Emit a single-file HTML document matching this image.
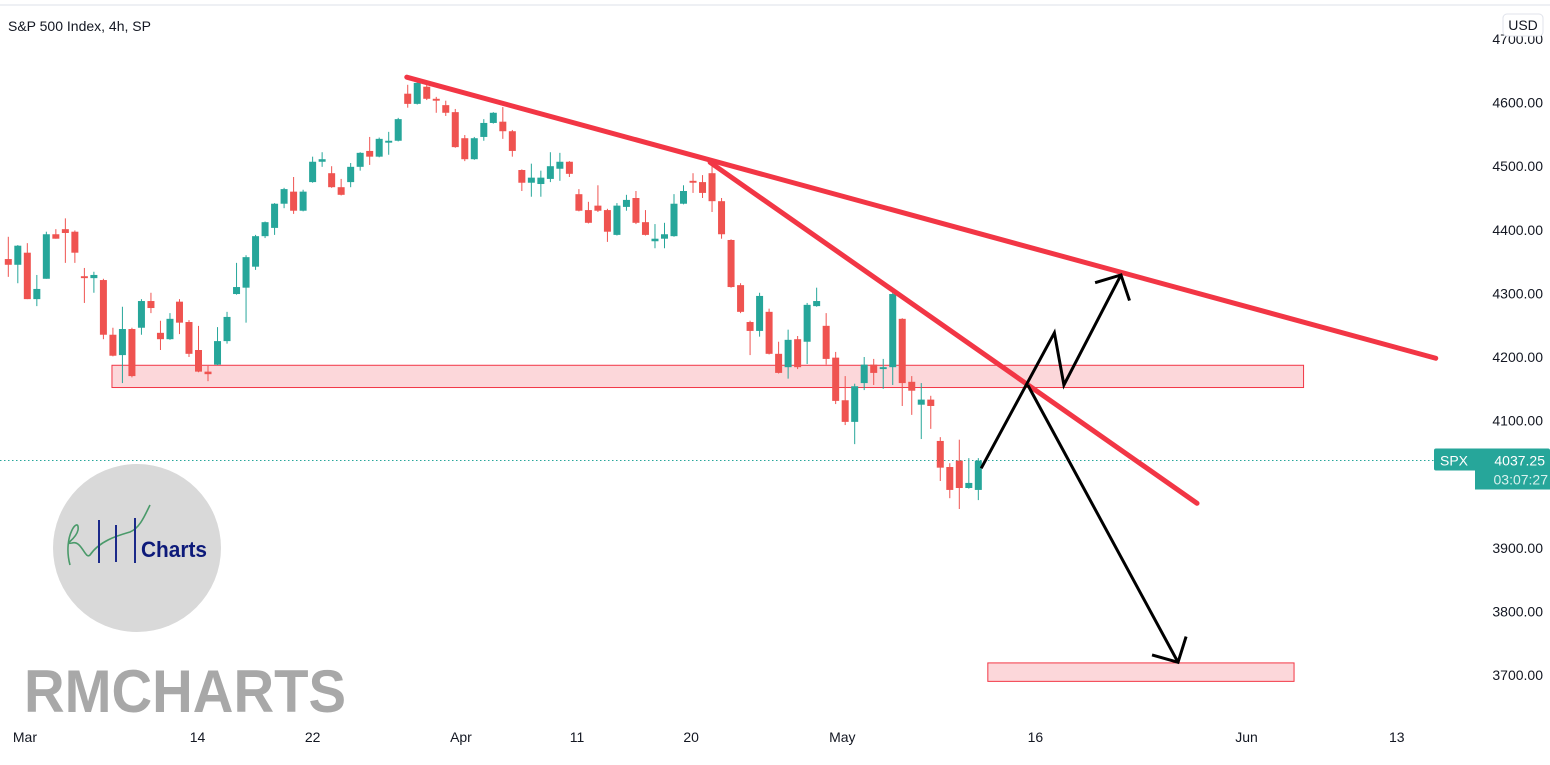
<!DOCTYPE html>
<html><head><meta charset="utf-8"><style>
html,body{margin:0;padding:0;background:#fff;}
body{width:1550px;height:765px;overflow:hidden;font-family:"Liberation Sans",sans-serif;}
svg{display:block;}
</style></head><body>
<svg id="chart" width="1550" height="765" xmlns="http://www.w3.org/2000/svg" font-family="Liberation Sans, sans-serif">
<line x1="0" y1="5" x2="1550" y2="5" stroke="#eef0f4" stroke-width="2"/>
<g id="logo">
<circle cx="137" cy="548" r="84" fill="#d9d9d9"/>
<path d="M70 565 C62 535,80 515,78 530 C76 540,62 545,72 543 C82 540,85 560,90 555 C100 540,120 535,130 532 C140 528,145 515,150 505" fill="none" stroke="#4a9a6a" stroke-width="1.6"/>
<line x1="99" y1="520" x2="99" y2="563" stroke="#1c2a8a" stroke-width="2"/>
<line x1="116" y1="525" x2="116" y2="562" stroke="#1c2a8a" stroke-width="2"/>
<line x1="135" y1="518" x2="135" y2="563" stroke="#1c2a8a" stroke-width="2"/>
<text x="141" y="557" font-size="22" font-weight="bold" fill="#0d1a7a" textLength="66" lengthAdjust="spacingAndGlyphs">Charts</text>
</g>
<text x="24" y="712" font-size="60" font-weight="bold" fill="#a8a8a8" textLength="322" lengthAdjust="spacingAndGlyphs">RMCHARTS</text>
<g id="zones"></g>
<g id="candles"></g>
<g id="drawings"></g>
<g id="yaxis"></g>
<g id="xaxis"></g>
<text x="8" y="31" font-size="14" fill="#131722">S&amp;P 500 Index, 4h, SP</text>
<rect x="1503" y="14" width="40" height="22" rx="4" fill="#fff" stroke="#e0e3eb"/>
<text x="1523" y="30" font-size="14" fill="#131722" text-anchor="middle">USD</text>
</svg>
<script>
const NS='http://www.w3.org/2000/svg';
// candle data [open, high, low, close]
const opens=[4354,4345,4364,4291,4323,4393,4401,4397,4327,4324,4321,4235,4203,4244,4246,4288,4238,4228,4287,4255,4211,4177,4188,4225,4299,4309,4342,4390,4403,4441,4460,4430,4475,4507,4489,4467,4475,4499,4524,4515,4537,4540,4614,4598,4625,4606,4596,4585,4544,4511,4546,4568,4570,4555,4494,4474,4472,4480,4496,4507,4456,4431,4438,4431,4392,4436,4450,4412,4382,4386,4390,4441,4477,4475,4489,4445,4384,4313,4255,4241,4271,4205,4184,4228,4224,4280,4249,4199,4132,4098,4159,4188,4181,4184,4260,4161,4125,4133,4068,4027,4037,3994,3991];
const highs=[4389,4376,4379,4329,4397,4401,4418,4399,4340,4334,4323,4246,4279,4246,4291,4301,4257,4269,4291,4258,4249,4186,4247,4271,4348,4360,4392,4413,4442,4466,4483,4463,4515,4522,4500,4480,4505,4522,4546,4545,4554,4576,4628,4636,4628,4609,4603,4590,4549,4546,4574,4585,4593,4557,4495,4504,4493,4522,4521,4508,4464,4444,4470,4433,4442,4455,4461,4431,4409,4411,4456,4470,4489,4486,4505,4450,4385,4316,4257,4301,4276,4224,4243,4233,4285,4309,4269,4208,4170,4158,4200,4197,4197,4309,4261,4170,4159,4139,4074,4033,4070,4041,4041];
const lows=[4326,4316,4291,4280,4323,4386,4348,4348,4285,4301,4228,4201,4159,4168,4235,4269,4211,4227,4236,4200,4176,4162,4187,4221,4298,4254,4337,4387,4392,4434,4425,4429,4474,4499,4466,4454,4467,4493,4502,4514,4518,4539,4592,4597,4604,4584,4579,4529,4508,4510,4540,4567,4543,4515,4461,4452,4452,4475,4477,4483,4429,4410,4428,4381,4391,4430,4409,4391,4371,4371,4389,4440,4458,4450,4428,4386,4309,4269,4203,4232,4204,4174,4166,4181,4189,4279,4188,4126,4093,4063,4148,4156,4150,4156,4123,4109,4071,4087,4005,3978,3961,3993,3975];
const closes=[4345,4375,4291,4307,4393,4386,4395,4364,4324,4329,4235,4202,4244,4170,4288,4277,4228,4260,4254,4205,4177,4173,4225,4263,4310,4357,4390,4412,4441,4464,4430,4460,4507,4511,4467,4455,4499,4521,4515,4543,4540,4574,4598,4631,4606,4603,4584,4530,4511,4544,4568,4584,4555,4524,4474,4482,4482,4500,4507,4488,4430,4411,4430,4397,4438,4447,4411,4392,4386,4393,4441,4461,4474,4458,4445,4393,4310,4271,4241,4296,4205,4175,4227,4184,4282,4288,4197,4131,4098,4154,4188,4175,4184,4299,4159,4147,4133,4123,4026,3991,3994,4002,4037];
const priceTicks=[4700,4600,4500,4400,4300,4200,4100,3900,3800,3700];
const dateLabels=['Mar','14','22','Apr','11','20','May','16','Jun','13'];
const dateIdx=[1.75,19.9,32,47.6,59.8,71.8,87.7,108,130.2,146]; // bar index positions of date labels
const lastPrice=4037.25;
// trendlines & zones in (barIndex, price)
const trend1=[[41.9,4640],[150.1,4198]];
const trend2=[[73.8,4506],[125,3970]];
const zone1=[[10.9,4187],[136.2,4152]];
const zone2=[[103,3719],[135.2,3690]];
const pathUp=[[102.3,4025],[110,4238],[111,4156],[117,4329]];
const pathDown=[[107.2,4156],[123,3720]];

const x=i=>8.3+i*9.51;
const y=p=>39+(4700-p)*0.636;
function mk(tag,attrs,parent){const e=document.createElementNS(NS,tag);for(const k in attrs)e.setAttribute(k,attrs[k]);parent.appendChild(e);return e;}

const zg=document.getElementById('zones');
[zone1,zone2].forEach((z,k)=>{
  const r=mk('rect',{x:x(z[0][0]),y:y(z[0][1]),width:x(z[1][0])-x(z[0][0]),height:y(z[1][1])-y(z[0][1]),fill:'rgba(242,54,69,0.2)',stroke:'#f23645','stroke-width':1},zg);
  
  
});

const dl=mk('line',{x1:0,x2:1434,y1:y(lastPrice),y2:y(lastPrice),stroke:'#26a69a','stroke-width':1,'stroke-dasharray':'1.5 2.5'},zg);



const cg=document.getElementById('candles');
for(let i=0;i<opens.length;i++){
  const up=closes[i]>=opens[i];
  const col=up?'#26a69a':'#ef5350';
  const g=mk('g',{},cg);
  
  
  const cx=x(i);
  mk('line',{x1:cx,x2:cx,y1:y(highs[i]),y2:y(lows[i]),stroke:col,'stroke-width':1},g);
  const top=y(Math.max(opens[i],closes[i])),bot=y(Math.min(opens[i],closes[i]));
  mk('rect',{x:cx-3.5,y:top,width:7,height:Math.max(1.2,bot-top),fill:col},g);
}

const dg=document.getElementById('drawings');
[trend1,trend2].forEach((t,k)=>{
  const l=mk('line',{x1:x(t[0][0]),y1:y(t[0][1]),x2:x(t[1][0]),y2:y(t[1][1]),stroke:'#f23645','stroke-width':5,'stroke-linecap':'round'},dg);
  
  
});
function arrow(pts,name){
  const g=mk('g',{},dg);
  
  
  const P=pts.map(p=>[x(p[0]),y(p[1])]);
  mk('polyline',{points:P.map(p=>p.join(',')).join(' '),fill:'none',stroke:'#000','stroke-width':3,'stroke-linejoin':'miter'},g);
  const a=P[P.length-2],b=P[P.length-1];
  const ang=Math.atan2(b[1]-a[1],b[0]-a[0]);const L=27,s=0.8;
  const p1=[b[0]-L*Math.cos(ang-s),b[1]-L*Math.sin(ang-s)];
  const p2=[b[0]-L*Math.cos(ang+s),b[1]-L*Math.sin(ang+s)];
  mk('polyline',{points:`${p1} ${b} ${p2}`,fill:'none',stroke:'#000','stroke-width':3},g);
}
arrow(pathUp,'bullish-path-arrow');
arrow(pathDown,'bearish-path-arrow');

const yg=document.getElementById('yaxis');
priceTicks.forEach(p=>{
  const t=mk('text',{x:1543,y:y(p)+5,'font-size':14,fill:'#131722','text-anchor':'end'},yg);
  
  
  t.textContent=p.toFixed(2);
});
const ly=y(lastPrice);
const b1=mk('rect',{x:1434,y:ly-12,width:116,height:22,rx:2,fill:'#26a69a'},yg);


mk('rect',{x:1475,y:ly+8,width:75,height:21,fill:'#26a69a'},yg);
const t1=mk('text',{x:1440,y:ly+5,'font-size':14,fill:'#fff'},yg);t1.textContent='SPX';


const t2=mk('text',{x:1545,y:ly+5,'font-size':14,fill:'#fff','text-anchor':'end'},yg);t2.textContent=lastPrice.toFixed(2);


const t3=mk('text',{x:1548,y:ly+24,'font-size':14,fill:'#d8f1ee','text-anchor':'end'},yg);t3.textContent='03:07:27';



const xg=document.getElementById('xaxis');
dateLabels.forEach((d,k)=>{
  const t=mk('text',{x:x(dateIdx[k]),y:742,'font-size':14,fill:'#131722','text-anchor':'middle'},xg);
  
  
  t.textContent=d;
});
</script>
</body></html>
